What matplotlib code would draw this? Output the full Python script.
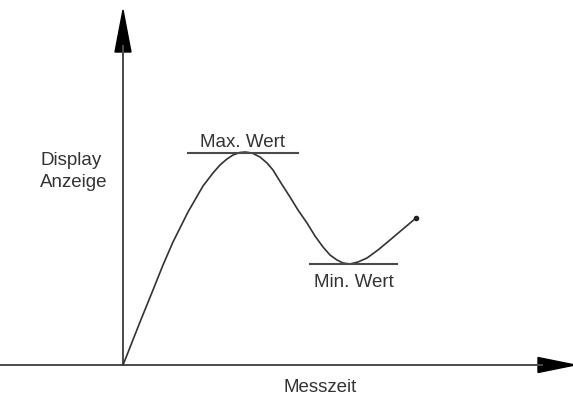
import matplotlib as mpl
mpl.use('Agg')
import matplotlib.pyplot as plt

# measured curve: time vs displayed value
t = [0, 4, 17, 30, 40, 50, 65, 80, 90, 97, 104, 110, 117, 122, 129, 137, 144,
     150, 158, 167, 175, 184, 192, 200, 207, 214, 220, 227, 235, 244, 255, 267,
     280, 293]
v = [0, 10, 43, 75, 100, 123, 153, 179, 192, 200, 206, 210, 212.5, 213, 212,
     208, 202, 195, 182, 168, 155, 142, 129, 118, 110, 105, 102, 101, 103, 107,
     115, 125, 136, 147]

max_val = 212
max_span = (65, 175)
min_val = 101
min_span = (187, 274)

plt.rcParams['font.family'] = ['Liberation Sans', 'DejaVu Sans']

fig = plt.figure(figsize=(5.73, 4.0), dpi=100)
ax = fig.add_axes([0, 0, 1, 1])
ax.set_xlim(-123, 450)
ax.set_ylim(-35, 365)
ax.axis('off')

axis_col = '#4a4a4a'
# axes with arrow heads
ax.plot([-123, 420], [0, 0], color=axis_col, lw=1.4, solid_capstyle='butt')
ax.plot([0, 0], [0, 320], color=axis_col, lw=1.4, solid_capstyle='butt')
ax.fill([-8, 8, 0], [313, 313, 355], color='black', clip_on=False)
ax.fill([415, 415, 452], [-7.5, 7.5, 0], color='black', clip_on=False)

# the curve
ax.plot(t, v, color='#333333', lw=1.2)
ax.plot(t[-1], v[-1], 'o', color='#222222', ms=3)

# max / min markers
ax.plot(max_span, [max_val, max_val], color=axis_col, lw=1.5)
ax.plot(min_span, [min_val, min_val], color=axis_col, lw=1.5)

txt = dict(color='#333333', fontsize=13.5, va='baseline')
ax.text(120, 218, 'Max. Wert', ha='center', **txt)
ax.text(231, 78, 'Min. Wert', ha='center', **txt)
ax.text(197, -27, 'Messzeit', ha='center', **txt)
ax.text(-83, 200, 'Display', ha='left', **txt)
ax.text(-83, 178, 'Anzeige', ha='left', **txt)

fig.savefig('out.png', dpi=100, facecolor='white')
